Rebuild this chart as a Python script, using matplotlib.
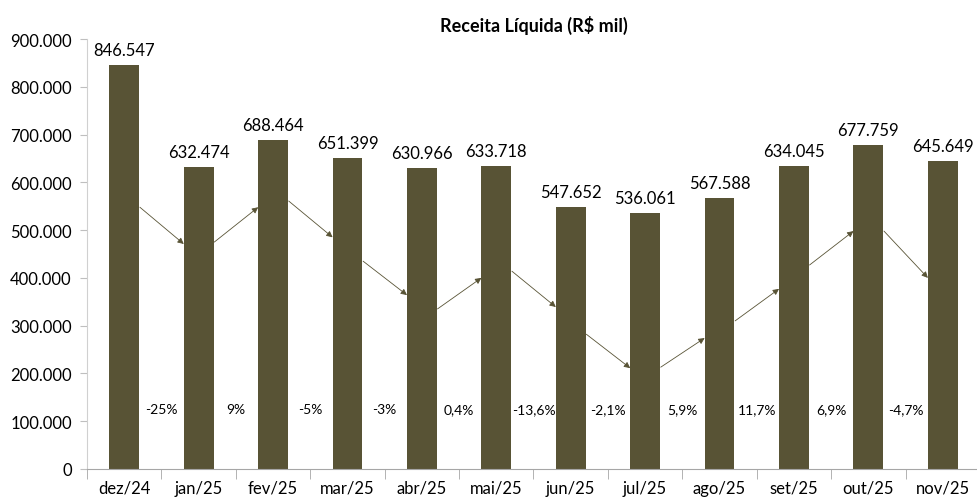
import numpy as np
import matplotlib.pyplot as plt
from matplotlib.ticker import FuncFormatter

# Receita liquida (R$ mil)
meses = ['dez/24', 'jan/25', 'fev/25', 'mar/25', 'abr/25', 'mai/25',
         'jun/25', 'jul/25', 'ago/25', 'set/25', 'out/25', 'nov/25']
receita = [846547, 632474, 688464, 651399, 630966, 633718,
           547652, 536061, 567588, 634045, 677759, 645649]
variacao = ['-25%', '9%', '-5%', '-3%', '0,4%', '-13,6%',
            '-2,1%', '5,9%', '11,7%', '6,9%', '-4,7%']

# arrow start / end heights (decorative trend arrows between bars)
seta_ini = [548000, 475000, 561000, 435000, 335000, 414000,
            282000, 213000, 310000, 427000, 498000]
seta_fim = [471000, 548000, 485000, 364000, 400000, 339000,
            211000, 274000, 377000, 498000, 400000]

cor = '#585335'
plt.rcParams['font.family'] = ['Lato', 'DejaVu Sans']

fig = plt.figure(figsize=(9.78, 5.02), dpi=100)
ax = fig.add_axes([0.089, 0.064, 0.913, 0.856])

x = np.arange(len(meses))
bars = ax.bar(x, receita, width=0.4, color=cor, zorder=2)

fmt = lambda v: '{:,.0f}'.format(v).replace(',', '.')
for xi, v in zip(x, receita):
    ax.annotate(fmt(v), (xi, v), xytext=(0, 5), textcoords='offset points',
                ha='center', va='bottom', fontsize=12)

for i in range(len(variacao)):
    ax.annotate('', xy=(i + 0.8, seta_fim[i]), xytext=(i + 0.21, seta_ini[i]),
                arrowprops=dict(arrowstyle='-|>', color=cor, lw=0.6,
                                mutation_scale=9, shrinkA=0, shrinkB=0),
                zorder=3)
    ax.text(i + 0.5, 125000, variacao[i], ha='center', va='center', fontsize=10)

ax.set_xlim(-0.5, len(meses) - 0.5)
ax.set_ylim(0, 900000)
ax.set_yticks(np.arange(0, 900001, 100000))
ax.yaxis.set_major_formatter(FuncFormatter(lambda v, p: fmt(v)))
ax.set_xticks(x)
ax.set_xticklabels(meses)
ax.set_xticks(np.arange(-0.5, len(meses), 1), minor=True)
ax.tick_params(axis='x', which='major', length=0, pad=8, labelsize=12)
ax.tick_params(axis='x', which='minor', length=7, color='#a6a6a6')
ax.tick_params(axis='y', length=5, color='#bfbfbf', labelsize=12, pad=6)

for s in ['top', 'right']:
    ax.spines[s].set_visible(False)
ax.spines['left'].set_color('#d0d0d0')
ax.spines['bottom'].set_color('#a6a6a6')

ax.set_title('Receita Líquida (R$ mil)', fontsize=13, fontweight='bold', pad=6)

plt.savefig('out.png', dpi=100)
